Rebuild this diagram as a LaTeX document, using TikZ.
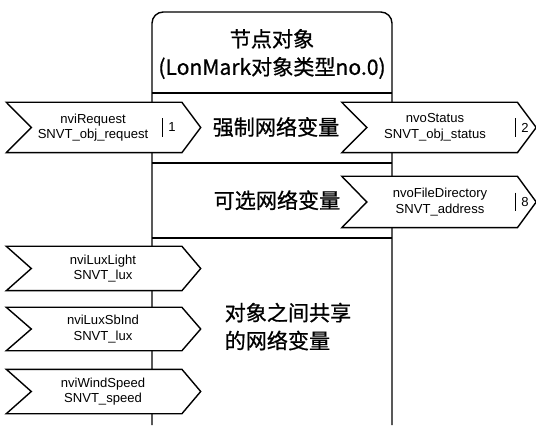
\documentclass[tikz,border=0pt]{standalone}
\usepackage{fontspec}
\setmainfont{Liberation Sans}
\newfontfamily\cjk{Noto Sans CJK SC}[FakeBold=0.8]
\usetikzlibrary{positioning}
\tikzset{
  every picture/.style={line width=1pt},
  flag/.style={inner sep=0pt, minimum width=4.825cm, minimum height=#1},
  flag/.default=1.225cm,
  nv/.style={font=\fontsize{9.3}{11.2}\selectfont, align=center, inner sep=0pt},
  num/.style={font=\fontsize{9.3}{11.2}\selectfont, inner sep=0pt},
  zh/.style={font=\cjk\fontsize{15}{19.9}\selectfont, align=center, inner sep=0pt},
  tick/.style={line width=0.6pt},
}
\begin{document}
\begin{tikzpicture}
  \useasboundingbox (0,0) rectangle (13.4,10.625);
  % ---------- node object frame
  \draw[rounded corners=8pt] (3.8,0) -- (3.8,10.325) -- (9.8,10.325) -- (9.8,0);
  \foreach \y in {8.3, 6.55, 4.675}
    \draw (3.8,\y) -- (9.8,\y);
  \node[zh] (title) at (6.8, 9.275) {节点对象\\(LonMark对象类型no.0)};
  \node[zh] (mand) at (6.9, 7.45) {强制网络变量};
  \node[zh] (opt) at (6.925, 5.62) {可选网络变量};
  \node[zh, align=left, anchor=west] (shared) at (5.6, 2.46) {对象之间共享\\的网络变量};
  % ---------- flag outlines
  \node[flag] (req) at (2.5875, 7.4375) {};
  \node[flag] (stat) at (10.975, 7.4375) {};
  \node[flag=1.25cm] (file) at (10.975, 5.575) {};
  \node[flag=1.075cm] (lux) at (2.5875, 3.9125) {};
  \node[flag=1.05cm] (sbind) at (2.5875, 2.4) {};
  \node[flag=1.075cm] (wind) at (2.5875, 0.8375) {};
  \foreach \n in {req, stat, file, lux, sbind, wind}
    \draw[fill=white] (\n.north west) -- ([xshift=-4.7mm]\n.north east) -- (\n.east)
      -- ([xshift=-4.7mm]\n.south east) -- (\n.south west) -- ([xshift=6.25mm]\n.west) -- cycle;
  % ---------- mandatory and optional variables
  \node[nv] (reqt) at (2.325, 7.4375) {nviRequest\\SNVT\_obj\_request};
  \node[num] (reqn) at (4.3, 7.4375) {1};
  \node[nv] (statt) at (10.875, 7.4375) {nvoStatus\\SNVT\_obj\_status};
  \node[num] (statn) at (13.125, 7.4375) {2};
  \node[nv] (filet) at (11.0, 5.575) {nvoFileDirectory\\SNVT\_address};
  \node[num] (filen) at (13.125, 5.575) {8};
  \foreach \n in {reqn, statn, filen}
    \draw[tick] ([xshift=-2.3mm, yshift=1mm]\n.north) -- ([xshift=-2.3mm, yshift=-1mm]\n.south);
  % ---------- shared variables
  \foreach \n/\a/\b in {lux/nviLuxLight/lux, sbind/nviLuxSbInd/lux, wind/nviWindSpeed/speed}
    \node[nv] (\n t) at ([xshift=-0.0125cm]\n.center) {\a\\SNVT\_\b};
\end{tikzpicture}
\end{document}
